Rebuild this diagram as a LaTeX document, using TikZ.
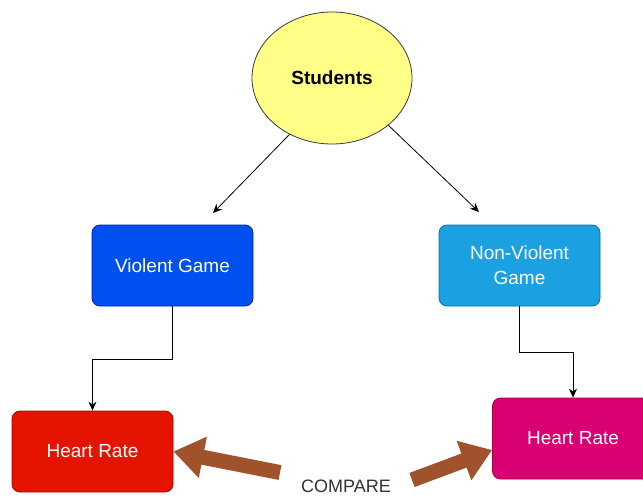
\documentclass[tikz,border=0pt]{standalone}
\usepackage{fontspec}
\setmainfont{Liberation Sans}
\usetikzlibrary{shapes.geometric,arrows.meta,calc}

\definecolor{ellfill}{HTML}{FFFF88}
\definecolor{ellline}{HTML}{36393D}
\definecolor{bluefill}{HTML}{0050EF}
\definecolor{blueline}{HTML}{001DBC}
\definecolor{skyfill}{HTML}{1BA1E2}
\definecolor{skyline}{HTML}{006EAF}
\definecolor{redfill}{HTML}{E51400}
\definecolor{redline}{HTML}{B20000}
\definecolor{magfill}{HTML}{D80073}
\definecolor{magline}{HTML}{A50040}
\definecolor{brownfill}{HTML}{A0522D}
\definecolor{labelgray}{HTML}{333333}

\tikzset{
  boxnode/.style={rectangle, rounded corners=8pt, minimum width=161pt,
    minimum height=81pt, inner sep=2pt, line width=0.8pt, text=white,
    align=center, font=\fontsize{19}{25}\selectfont},
  link/.style={line width=0.8pt, draw=black, -{Stealth[length=9pt,width=8pt]}},
  bigarrow/.style={line width=15pt, draw=brownfill, line cap=butt,
    -{Triangle[length=30pt,width=40pt]}},
}

\begin{document}
\begin{tikzpicture}[x=1pt, y=-1pt]
  \useasboundingbox (0,0) rectangle (643,496);
  \clip (0,0) rectangle (643,496);

  % top ellipse
  \node[ellipse, draw=ellline, fill=ellfill, line width=0.8pt,
        minimum width=160pt, minimum height=132pt, inner sep=0pt,
        font=\bfseries\fontsize{19}{22}\selectfont] (st) at (332,78) {Students};

  % game boxes
  \node[boxnode, fill=bluefill, draw=blueline] (vg) at (172.5,265.5) {Violent Game};
  \node[boxnode, fill=skyfill, draw=skyline] (nvg) at (519.5,265.5) {Non-Violent\\Game};

  % heart rate boxes
  \node[boxnode, fill=redfill, draw=redline] (hr1) at (92.5,451.5) {Heart Rate};
  \node[boxnode, fill=magfill, draw=magline] (hr2) at (573,438.5) {Heart Rate};

  % arrows from the ellipse
  \coordinate (la) at (213,213);
  \coordinate (ra) at (479,212);
  \draw[link] (st.233) -- (la);
  \draw[link] (st.320) -- (ra);

  % elbow connectors down to the heart rate boxes
  \draw[link] (vg.south) -- ++(0,53) -| (hr1.north);
  \draw[link] (nvg.south) -- ++(0,46) -| (hr2.north);

  % comparison label and block arrows
  \node[text=labelgray, font=\fontsize{18}{20}\selectfont] (cmp) at (346,486) {COMPARE};
  \coordinate (lt) at (280,472.5);
  \coordinate (rt) at (412,480);
  \draw[bigarrow] (lt) -- (hr1.east);
  \draw[bigarrow] (rt) -- ($(hr2.west)+(0,11.5)$);
\end{tikzpicture}
\end{document}
